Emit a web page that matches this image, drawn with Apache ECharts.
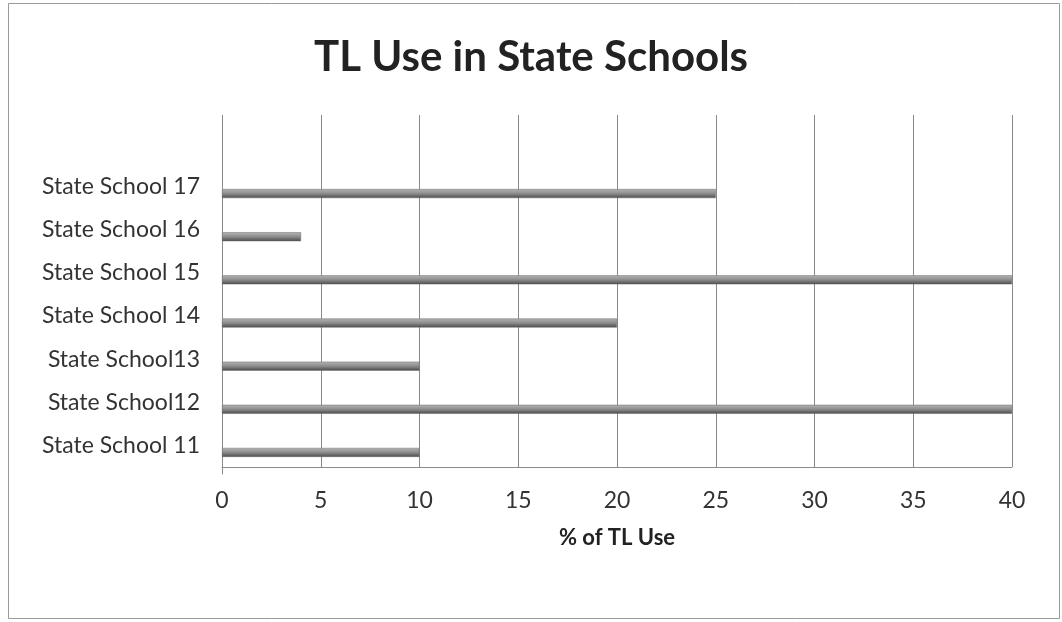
<!DOCTYPE html>
<html>
<head>
<meta charset="utf-8">
<script src="https://cdn.jsdelivr.net/npm/echarts@6/dist/echarts.min.js"></script>
<style>
  html, body { margin: 0; padding: 0; background: #fff; }
  #chart { width: 1062px; height: 622px; }
</style>
</head>
<body>
<div id="chart"></div>
<script>
// Schools, listed bottom to top on the category axis
const schools = ['State School 11', 'State School12', 'State School13', 'State School 14', 'State School 15', 'State School 16', 'State School 17'];
// Percentage of target-language use per school
const tlUse = [10, 40, 10, 20, 40, 4, 25];
const valueTicks = [0, 5, 10, 15, 20, 25, 30, 35, 40];

const chart = echarts.init(document.getElementById('chart'));
const font = 'Lato, "Open Sans", sans-serif';

chart.setOption({
  animation: false,
  backgroundColor: '#fff',
  title: {
    text: 'TL Use in State Schools',
    left: 'center',
    top: 31,
    textStyle: { fontFamily: font, fontSize: 42, fontWeight: 'bold', color: '#222' }
  },
  graphic: [{
    type: 'rect',
    shape: { x: 8.5, y: 3.5, width: 1051, height: 615 },
    style: { fill: 'none', stroke: '#9a9a9a', lineWidth: 1 },
    z: -1
  }],
  grid: [
    // full-height frame carrying the value axis and its gridlines
    { left: 222, right: 50, top: 115, height: 352 },
    // bar area
    { left: 222, right: 50, top: 172, height: 302 }
  ],
  xAxis: [{
    gridIndex: 0,
    type: 'value',
    min: valueTicks[0],
    max: valueTicks[valueTicks.length - 1],
    interval: valueTicks[1] - valueTicks[0],
    name: '% of TL Use',
    nameLocation: 'middle',
    nameGap: 60,
    nameTextStyle: { fontFamily: font, fontSize: 22, fontWeight: 'bold', color: '#222' },
    axisLine: { show: true, lineStyle: { color: '#8a8a8a', width: 1 } },
    axisTick: { show: false },
    axisLabel: { fontFamily: font, fontSize: 23, color: '#333', margin: 22 },
    splitLine: { show: true, lineStyle: { color: '#8a8a8a', width: 1 } }
  }, {
    gridIndex: 1,
    type: 'value',
    min: valueTicks[0],
    max: valueTicks[valueTicks.length - 1],
    interval: valueTicks[1] - valueTicks[0],
    show: false,
    splitLine: { show: false }
  }],
  yAxis: [{
    gridIndex: 0,
    type: 'value',
    show: false,
    splitLine: { show: false }
  }, {
    gridIndex: 1,
    type: 'category',
    data: schools,
    axisLine: { show: true, lineStyle: { color: '#8a8a8a', width: 1 } },
    axisTick: { show: false },
    axisLabel: {
      fontFamily: font, fontSize: 23, color: '#333', margin: 22,
      verticalAlign: 'bottom', lineHeight: 14
    },
    splitLine: { show: false }
  }],
  series: [{
    type: 'bar',
    xAxisIndex: 1,
    yAxisIndex: 1,
    data: tlUse,
    barWidth: 9,
    itemStyle: {
      color: new echarts.graphic.LinearGradient(0, 0, 0, 1, [
        { offset: 0, color: '#b4b4b4' },
        { offset: 0.5, color: '#8c8c8c' },
        { offset: 1, color: '#4a4a4a' }
      ]),
      borderColor: '#6a6a6a',
      borderWidth: 0.5
    }
  }]
});
</script>
</body>
</html>
